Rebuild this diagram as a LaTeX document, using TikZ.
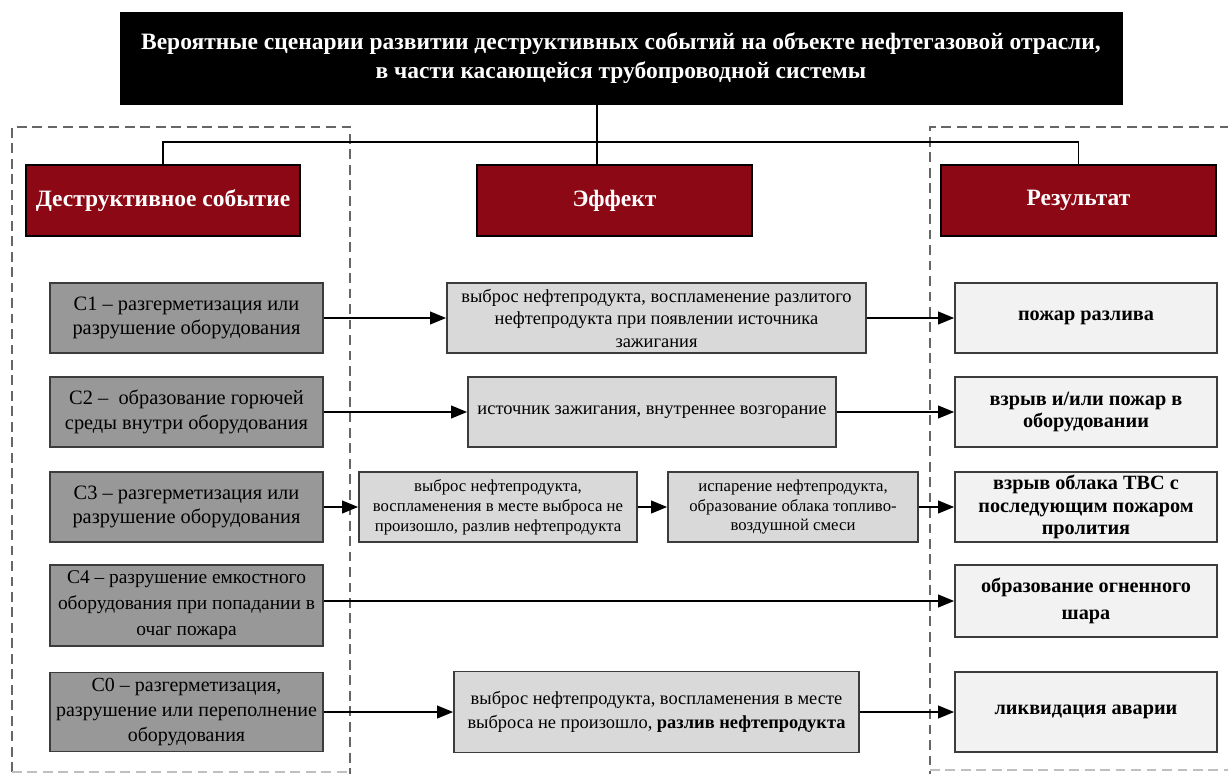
\documentclass[tikz,border=0pt]{standalone}
\usepackage{fontspec}
\setmainfont{Liberation Serif}
\usetikzlibrary{arrows.meta}
\definecolor{headred}{RGB}{139,8,20}
\definecolor{evgray}{RGB}{152,152,152}
\definecolor{efgray}{RGB}{217,217,217}
\definecolor{resgray}{RGB}{242,242,242}
\definecolor{edgegray}{RGB}{60,60,60}
\tikzset{
	box/.style={draw=edgegray, line width=1.1pt, align=center, inner sep=0pt},
	headbox/.style={box, draw=black, fill=headred, text=white, font=\bfseries\fontsize{16.7}{19}\selectfont, minimum width=6.85cm, minimum height=1.775cm},
	eventbox/.style={box, fill=evgray, font=\fontsize{14.5}{17.5}\selectfont, minimum width=6.825cm, minimum height=1.75cm},
	effectbox/.style={box, fill=efgray, font=\fontsize{13.1}{16}\selectfont, minimum height=1.75cm},
	resultbox/.style={box, fill=resgray, font=\bfseries\fontsize{14.4}{15.8}\selectfont, minimum width=6.55cm, minimum height=1.75cm},
	arrowline/.style={line width=1.5pt, -{Triangle[length=11.5pt, width=9pt]}},
	treeline/.style={line width=1.2pt},
	groupframe/.style={black!60, line width=0.8pt, dash pattern=on 7pt off 4pt}
}

\begin{document}
\begin{tikzpicture}[x=0.025cm, y=-0.025cm]
	%%%%% START %%%%%
	\useasboundingbox (0,0) rectangle (1228,774);
	
	% dashed column frames, bottom edges fainter
	\draw[groupframe] (12,772) -- (12,127) -- (350,127) -- (350,774);
	\draw[groupframe, black!25] (12,772) -- (350,772);
	\draw[groupframe] (1245,127) -- (930,127) -- (930,774);
	\draw[groupframe, black!25] (930,770) -- (1245,770);
	
	\node[draw=black, fill=black, text=white, align=center, font=\bfseries\fontsize{16.7}{20.6}\selectfont, minimum width=25.05cm, minimum height=2.3cm] (title) at (621,58)
		{Вероятные сценарии развитии деструктивных событий на объекте нефтегазовой отрасли,\\в части касающейся трубопроводной системы};
	
	% column heads
	\node[headbox] (hevent) at (163,200.5) {Деструктивное событие};
	\node[headbox, minimum width=6.875cm] (heffect) at (614.5,200.5) {Эффект};
	\node[headbox, minimum width=6.875cm] (hresult) at (1078.5,200.5) {Результат};
	
	\coordinate (hub) at (597,142);
	\draw[treeline] (title.south -| hub) -- (hub |- heffect.north);
	\draw[treeline] (hevent.north) |- (hub) -| (hresult.north);
	
	% events
	\node[eventbox] (c1) at (186.5,318) {C1 – разгерметизация или\\разрушение оборудования};
	\node[eventbox] (c2) at (186.5,412) {C2 –\ \ образование горючей\\среды внутри оборудования};
	\node[eventbox] (c3) at (186.5,507) {C3 –\ разгерметизация или\\разрушение оборудования};
	\node[eventbox, minimum height=2.025cm, font=\fontsize{13.8}{18.5}\selectfont] (c4) at (186.5,605.5) {C4 –\ разрушение емкостного\\оборудования при попадании в\\очаг пожара};
	\node[eventbox, minimum height=1.975cm, font=\fontsize{14.2}{17.5}\selectfont] (c0) at (186.5,712) {C0 –\ разгерметизация,\\разрушение или переполнение\\оборудования};
	
	% effects
	\node[effectbox, minimum width=10.475cm] (e1) at (656.5,318) {выброс нефтепродукта, воспламенение разлитого\\нефтепродукта при появлении источника\\зажигания};
	\node[effectbox, minimum width=9.2cm] (e2) at (652,412) {источник зажигания, внутреннее возгорание};
	\node[effectbox, minimum width=6.95cm, font=\fontsize{11.9}{14.2}\selectfont] (e3a) at (498,507) {выброс нефтепродукта,\\воспламенения в месте выброса не\\произошло, разлив нефтепродукта};
	\node[effectbox, minimum width=6.25cm, font=\fontsize{11.9}{14.2}\selectfont] (e3b) at (793,507) {испарение нефтепродукта,\\образование облака топливо-\\воздушной смеси};
	\node[effectbox, minimum width=10.125cm, minimum height=2.025cm, font=\fontsize{13.1}{17}\selectfont] (e0) at (656.5,712) {выброс нефтепродукта, воспламенения в месте\\выброса не произошло, \textbf{разлив нефтепродукта}};
	
	% results
	\node[resultbox] (r1) at (1086,318) {пожар разлива};
	\node[resultbox] (r2) at (1086,412) {взрыв и/или пожар в\\оборудовании};
	\node[resultbox] (r3) at (1086,507) {взрыв облака ТВС с\\последующим пожаром\\пролития};
	\node[resultbox, minimum height=1.8cm, font=\bfseries\fontsize{14.4}{19}\selectfont] (r4) at (1086,601) {образование огненного\\шара};
	\node[resultbox, minimum height=2cm] (r0) at (1086,712) {ликвидация аварии};
	
	\draw[arrowline] (c1) -- (e1);
	\draw[arrowline] (e1) -- (r1);
	\draw[arrowline] (c2) -- (e2);
	\draw[arrowline] (e2) -- (r2);
	\draw[arrowline] (c3) -- (e3a);
	\draw[arrowline] (e3a) -- (e3b);
	\draw[arrowline] (e3b) -- (r3);
	\draw[arrowline] (c4.east |- r4) -- (r4.west);
	\draw[arrowline] (c0) -- (e0);
	\draw[arrowline] (e0) -- (r0);
	%%%%% END %%%%%
\end{tikzpicture}
\end{document}
